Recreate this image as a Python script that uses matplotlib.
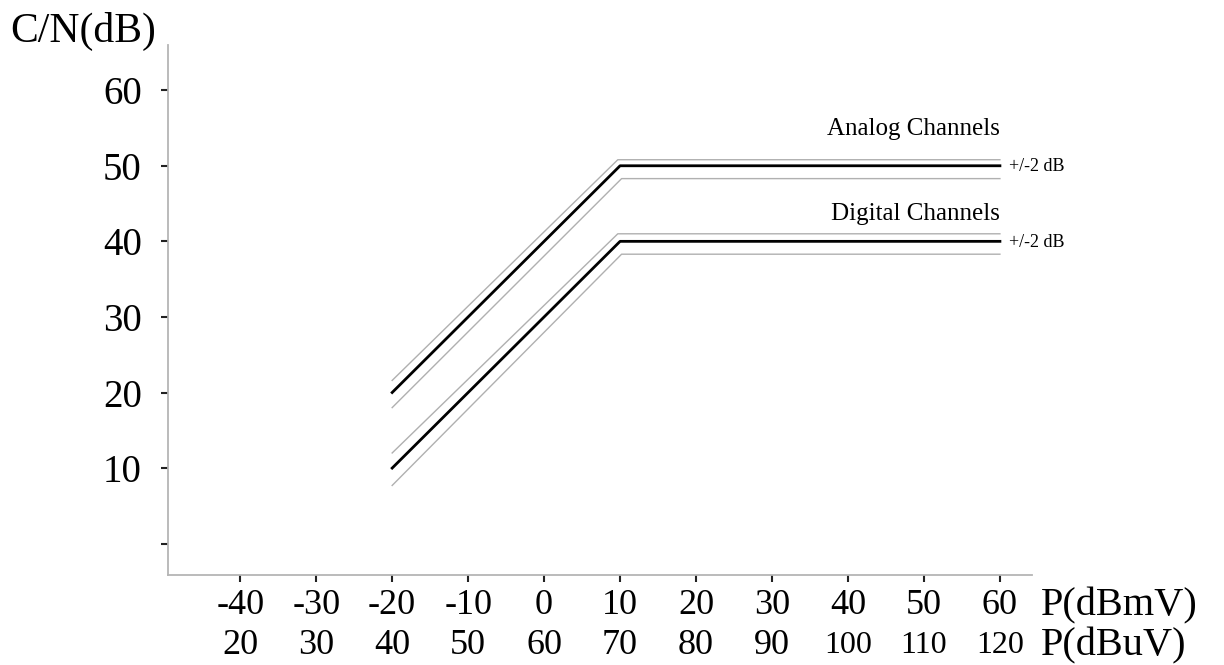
import matplotlib.pyplot as plt

# Power levels (top row dBmV, bottom row dBuV) and C/N ticks
p_dbmv = [-40, -30, -20, -10, 0, 10, 20, 30, 40, 50, 60]
p_dbuv = [20, 30, 40, 50, 60, 70, 80, 90, 100, 110, 120]
cn_ticks = [0, 10, 20, 30, 40, 50, 60]
cn_labels = ["", "10", "20", "30", "40", "50", "60"]

# Analog channels: nominal curve and tolerance band
analog_x = [-20, 10, 60]
analog_y = [20, 50, 50]
analog_hi_x = [-20, 9.7, 60]
analog_hi_y = [21.6, 50.8, 50.8]
analog_lo_x = [-20, 10.2, 60]
analog_lo_y = [18.0, 48.3, 48.3]

# Digital channels: nominal curve and tolerance band
digital_x = [-20, 10, 60]
digital_y = [10, 40, 40]
digital_hi_x = [-20, 9.7, 60]
digital_hi_y = [12.0, 41.0, 41.0]
digital_lo_x = [-20, 10.2, 60]
digital_lo_y = [7.7, 38.3, 38.3]

plt.rcParams['font.family'] = ['Liberation Serif', 'DejaVu Serif']

fig = plt.figure(figsize=(12.24, 6.65), dpi=100)
ax = fig.add_axes([0.1373, 0.1353, 0.7057, 0.7967])

gray = '#b0b0b0'
for xs, ys in [(analog_hi_x, analog_hi_y), (analog_lo_x, analog_lo_y),
               (digital_hi_x, digital_hi_y), (digital_lo_x, digital_lo_y)]:
    ax.plot(xs, ys, color=gray, linewidth=1.0)
ax.plot(analog_x, analog_y, color='black', linewidth=2.0)
ax.plot(digital_x, digital_y, color='black', linewidth=2.0)

ax.text(60, 54.8, "Analog Channels", ha='right', va='center', fontsize=18)
ax.text(60, 43.6, "Digital Channels", ha='right', va='center', fontsize=18)
ax.text(61.2, 49.9, "+/-2 dB", ha='left', va='center', fontsize=13)
ax.text(61.2, 39.9, "+/-2 dB", ha='left', va='center', fontsize=13)

ax.set_xlim(-49.5, 64.2)
ax.set_ylim(-4.15, 65.95)

ax.set_xticks(p_dbmv)
ax.set_xticklabels([str(v) for v in p_dbmv], fontsize=26)
ax.set_yticks(cn_ticks)
ax.set_yticklabels(cn_labels, fontsize=28)
ax.tick_params(axis='x', direction='out', length=5, width=1.5, color='#222222', pad=5)
ax.tick_params(axis='y', direction='out', length=5, width=1.5, color='#222222', pad=14)

# second row of x labels (dBuV)
trans = ax.get_xaxis_transform()
for xv, lab in zip(p_dbmv, p_dbuv):
    size = 23 if lab >= 100 else 26
    ax.text(xv, -0.133, str(lab), transform=trans, ha='center', va='center',
            fontsize=size)

ax.text(1.01, -0.058, "P(dBmV)", transform=ax.transAxes, ha='left', va='center', fontsize=29)
ax.text(1.01, -0.133, "P(dBuV)", transform=ax.transAxes, ha='left', va='center', fontsize=29)
fig.text(0.008, 0.952, "C/N(dB)", ha='left', va='center', fontsize=30)

for side in ['top', 'right']:
    ax.spines[side].set_visible(False)
for side in ['left', 'bottom']:
    ax.spines[side].set_color('#b5b5b5')
    ax.spines[side].set_linewidth(1.3)

fig.savefig("out.png", dpi=100)
